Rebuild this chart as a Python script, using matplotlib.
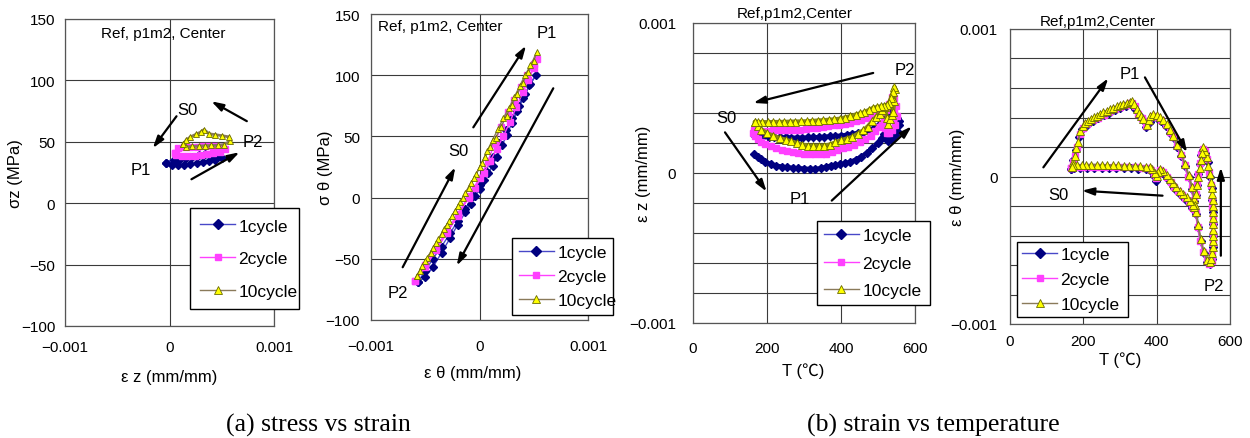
import numpy as np
import matplotlib
matplotlib.use('Agg')
import matplotlib.pyplot as plt
from matplotlib.lines import Line2D

plt.rcParams['font.family'] = ['Liberation Sans', 'Noto Sans CJK JP', 'DejaVu Sans']

# ─────────────────────────────────────────────
# DATA  (strains in 1e-6 mm/mm, stress in MPa, T in degC)
# ─────────────────────────────────────────────
cycles = ['1cycle', '2cycle', '10cycle']

# (a) sigma_z vs eps_z
ez_c1 = [-30, 20, 80, 140, 200, 260, 320, 380, 440, 500, 460, 400, 340, 280, 220, 160, 100, 40, -30]
sz_c1 = [33, 31.5, 31, 31.2, 31.8, 32.5, 33.5, 34.5, 35.5, 37, 38.5, 39.5, 40, 39, 38, 37, 36.3, 35.5, 33]
ez_c2 = [50, 60, 120, 180, 240, 300, 360, 420, 480, 530, 500, 440, 380, 320, 260, 200, 140, 80, 50]
sz_c2 = [41, 39, 38.5, 38.5, 38.8, 39.2, 39.8, 40.5, 41.5, 44, 46, 46.3, 46.3, 46.2, 46, 45.8, 45.5, 45, 41]
ez_c10 = [130, 160, 220, 280, 340, 400, 460, 520, 580, 570, 500, 440, 380, 330, 300, 250, 200, 160, 130]
sz_c10 = [48, 46, 46.2, 46.5, 46.8, 47, 47.2, 47.8, 50.5, 54, 55, 55.8, 56.5, 60, 58, 56, 54, 51.5, 48]

# (a) sigma_theta vs eps_theta
et_c1 = [-570, -500, -430, -350, -270, -200, -130, -60, 0, 60, 120, 180, 240, 300, 360, 420, 470, 520,
         460, 400, 350, 300, 250, 210, 160, 120, 80, 40, 0, -40, -80, -130, -200, -270, -350, -430, -500, -570]
st_c1 = [-69, -60, -50, -40, -29, -19, -9, 1, 10, 22, 33, 45, 55, 65, 75, 85, 93, 100,
         92, 81, 71, 61, 51, 43, 33, 26, 20, 14, 7, 1, -5, -12, -22, -33, -45, -57, -65, -69]
et_c2 = [-590, -500, -400, -300, -200, -100, 0, 80, 140, 200, 260, 320, 380, 440, 500, 530,
         500, 450, 400, 340, 280, 220, 160, 100, 40, -40, -100, -200, -300, -400, -500, -590]
st_c2 = [-68, -55, -41, -27, -13, 1, 16, 30, 45, 58, 70, 80, 90, 100, 109, 113,
         106, 96, 86, 74, 62, 50, 40, 30, 20, 8, 0, -15, -29, -43, -57, -68]
et_c10 = [-580, -530, -480, -430, -380, -330, -280, -230, -180, -130, -80, -30, 20, 70, 120, 170,
          220, 270, 320, 370, 420, 470, 530,
          500, 450, 400, 350, 300, 250, 200, 150, 100, 50, 0, -50, -100, -150, -200, -250, -300,
          -350, -400, -450, -500, -550, -580]
st_c10 = [-64, -56, -49, -41, -34, -26, -19, -11, -4, 4, 12, 19, 28, 38, 47, 56,
          65, 73, 82, 91, 100, 108, 119,
          112, 103, 94, 85, 76, 67, 58, 49, 41, 33, 25, 16, 8, 0, -7, -15, -22,
          -30, -37, -45, -52, -60, -64]

# (b) eps_z vs T
tz_c1 = [165, 175, 185, 195, 210, 225, 240, 255, 270, 285, 300, 315, 330, 345, 360, 372, 385, 397, 410, 425,
         440, 455, 470, 485, 500, 510, 516, 522, 528, 536, 545, 552, 556, 558,
         552, 545, 538, 532, 525, 518, 505, 490, 475, 460, 445, 430, 415, 400, 385, 370,
         355, 340, 325, 310, 295, 280, 265, 250, 235, 220, 205, 190, 175, 165]
ezt_c1 = [125, 110, 92, 75, 60, 50, 43, 38, 35, 32, 30, 28, 28, 32, 42, 50, 52, 58, 65, 75,
          90, 110, 135, 165, 200, 235, 260, 235, 215, 230, 255, 280, 320, 345,
          365, 380, 405, 425, 385, 350, 325, 300, 285, 275, 268, 260, 255, 250, 247, 245,
          242, 240, 238, 237, 236, 236, 236, 237, 238, 240, 242, 245, 250, 255]
tz_c2 = [162, 168, 175, 185, 195, 210, 225, 240, 255, 270, 285, 300, 315, 330, 345, 360, 375, 390, 405, 420,
         435, 450, 465, 480, 492, 502, 510, 516, 520, 524, 530, 538, 545, 550, 548, 542, 537,
         530, 522, 512, 500, 485, 470, 455, 440, 425, 410, 395, 380, 365, 350, 335, 320, 305, 290, 275, 260,
         245, 230, 215, 200, 185, 172, 165]
ezt_c2 = [265, 245, 228, 210, 195, 178, 165, 155, 147, 140, 135, 130, 128, 127, 128, 130, 140, 155, 165, 175,
          187, 205, 225, 250, 280, 310, 335, 345, 300, 265, 270, 290, 320, 380, 450, 500, 505,
          460, 420, 410, 395, 380, 370, 355, 345, 335, 328, 322, 318, 313, 308, 303, 298, 293, 290, 288, 287,
          286, 285, 284, 283, 282, 283, 285]
tz_c10 = [168, 175, 185, 200, 217, 235, 250, 265, 280, 295, 310, 325, 340, 355, 370, 385, 400, 415, 430, 445,
          460, 472, 485, 495, 505, 512, 518, 524, 528, 533, 538, 541, 544, 546, 544,
          540, 535, 530, 524, 516, 508, 497, 487, 475, 462, 450, 440, 425, 410, 397, 382, 367, 352, 337, 322,
          307, 292, 277, 262, 247, 232, 217, 202, 187, 175, 168]
ezt_c10 = [338, 315, 290, 265, 249, 232, 222, 212, 200, 190, 183, 182, 182, 183, 190, 205, 218, 230, 240, 262,
           285, 310, 345, 375, 395, 420, 440, 370, 330, 360, 385, 410, 480, 560, 575,
           540, 500, 470, 455, 450, 445, 440, 435, 420, 405, 397, 390, 378, 370, 362, 358, 355, 352, 350, 347,
           345, 344, 343, 342, 341, 340, 340, 339, 339, 338, 338]

# (b) eps_theta vs T
tt_c1 = [166, 173, 180, 188, 197, 210, 225, 240, 255, 270, 285, 300, 315, 327, 334, 342, 352, 362, 372, 381,
         391, 401, 413, 426, 437, 446, 456, 467, 477, 487, 496, 502, 508, 513, 520, 528, 537, 545,
         551, 553, 553, 553, 553, 552, 550, 546, 540, 533, 527, 522, 518, 514, 510, 506, 502, 496, 488, 478,
         468, 458, 448, 438, 428, 418, 410, 404, 399, 393, 385, 370, 350, 330, 310, 290, 270, 250, 230, 210,
         190, 175, 166]
ett_c1 = [50, 110, 180, 270, 320, 350, 375, 395, 415, 432, 448, 462, 478, 490, 494, 460, 420, 380, 335, 370,
          405, 398, 378, 345, 298, 258, 198, 140, 70, -5, -85, -165, -255, -345, -440, -520, -578, -592,
          -560, -480, -400, -320, -240, -160, -80, 0, 100, 160, 180, 145, 85, 15, -55, -125, -225, -212, -180, -155,
          -132, -108, -78, -42, -8, 22, 32, 8, -30, 5, 38, 48, 52, 55, 57, 58, 59, 60, 60, 60,
          60, 58, 50]
tt_c2 = [166, 172, 177, 183, 190, 198, 210, 225, 240, 255, 270, 285, 300, 315, 327, 333, 340, 350, 360, 372,
         380, 390, 400, 412, 425, 436, 445, 455, 466, 476, 486, 495, 501, 507, 512, 519, 527, 536, 544,
         550, 552, 553, 553, 553, 553, 552, 551, 548, 543, 537, 531, 526, 522, 518, 514, 510, 506, 502, 496,
         488, 478, 468, 458, 448, 438, 428, 418, 410, 404, 399, 393, 385, 375, 360, 340, 320, 300, 280, 260,
         240, 220, 200, 185, 172, 166]
ett_c2 = [55, 95, 140, 200, 290, 330, 355, 380, 400, 420, 440, 455, 470, 485, 495, 500, 475, 425, 395, 340,
          375, 412, 405, 385, 350, 305, 265, 205, 145, 75, 0, -80, -160, -250, -340, -435, -515, -575, -590,
          -570, -510, -450, -390, -330, -270, -210, -150, -60, 30, 120, 170, 185, 150, 90, 20, -50, -120, -220, -205,
          -172, -148, -125, -100, -70, -35, 0, 30, 42, 18, -10, 15, 45, 55, 58, 62, 63, 64, 65, 66,
          67, 67, 67, 66, 66, 55]
tt_c10 = [168, 172, 177, 181, 186, 191, 198, 205, 212, 220, 228, 236, 245, 254, 264, 273, 282, 291, 300, 309,
          318, 327, 332, 338, 345, 352, 358, 364, 373, 378, 382, 391, 400, 409, 418, 427, 436, 445, 455, 466,
          477, 487, 496, 502, 508, 513, 520, 528, 537, 545,
          549, 552, 553, 554, 554, 554, 554, 554, 554, 553, 553, 552, 551, 549, 545, 541, 536, 532, 527,
          524, 520, 517, 514, 511, 508, 504, 502, 498, 491, 482, 472, 463, 454, 445, 436, 427, 418, 409,
          404, 400, 395, 388, 382, 370, 355, 340, 325, 310, 295, 280, 265, 250, 236, 222, 208, 195, 184,
          173, 168]
ett_c10 = [62, 100, 141, 190, 232, 310, 340, 360, 375, 390, 402, 412, 425, 436, 446, 456, 466, 476, 485, 493,
           500, 505, 515, 490, 458, 430, 410, 390, 349, 385, 412, 424, 415, 401, 380, 356, 318, 277, 215, 158,
           85, 12, -68, -150, -240, -330, -424, -505, -565, -582,
           -560, -520, -480, -440, -400, -360, -320, -280, -240, -200, -160, -120, -80, -40, 20, 70, 130, 175, 198,
           160, 110, 60, 0, -60, -120, -190, -209, -195, -164, -140, -119, -95, -73, -45, -17, 10, 39, 51,
           30, 5, 25, 50, 62, 66, 69, 72, 73, 74, 75, 76, 77, 78, 80, 80, 79, 78, 78,
           78, 62]

# ─────────────────────────────────────────────
# STYLES
# ─────────────────────────────────────────────
styles = [
    dict(color='#4848c8', marker='D', mfc='#000080', mec='#000080'),
    dict(color='#ff40ff', marker='s', mfc='#ff40ff', mec='#ff40ff'),
    dict(color='#8a7a5a', marker='^', mfc='#ffff00', mec='#6b6b00', mew=0.6),
]
band_colors = ['#000080', '#ff40ff', '#8c8c10']
GRID = '#3a3a3a'


def draw_series(ax, xs, ys, xscale, yscale, ms, lw=1.0, band=False):
    for i, (x, y) in enumerate(zip(xs, ys)):
        st = dict(styles[i])
        if band:
            st['color'] = band_colors[i]
        size = ms + (0.8 if st['marker'] == '^' else 0.0)
        ax.plot(np.array(x) * xscale, np.array(y) * yscale, lw=lw, ms=size,
                zorder=3 + i, **st)


def frame(ax, xlim, ylim, xticks, xlabels, yticks, ylabels, xpad, ypad):
    ax.set_xlim(xlim)
    ax.set_ylim(ylim)
    ax.set_xticks(xticks, xlabels)
    ax.set_yticks(yticks, ylabels)
    ax.grid(True, color=GRID, lw=0.8)
    ax.set_axisbelow(True)
    ax.tick_params(length=0, labelsize=11)
    ax.tick_params(axis='x', pad=xpad)
    ax.tick_params(axis='y', pad=ypad)
    for s in ax.spines.values():
        s.set_color('#555555')
        s.set_linewidth(0.9)


def labels(ax, xlabel, ylabel, xpos, ypos):
    ax.set_xlabel(xlabel, fontsize=12)
    ax.set_ylabel(ylabel, fontsize=12)
    ax.xaxis.set_label_coords(*xpos)
    ax.yaxis.set_label_coords(*ypos)
    ax.xaxis.label.set_va('center')
    ax.yaxis.label.set_va('center')


def arrow(ax, x0, y0, x1, y1):
    ax.annotate('', xy=(x1, y1), xytext=(x0, y0),
                arrowprops=dict(arrowstyle='-|>,head_length=0.7,head_width=0.22',
                                color='black', lw=1.6, shrinkA=0, shrinkB=0),
                zorder=8)


def legend(ax, box, spacing, pad):
    handles = []
    for st in styles:
        size = 5.5 if st['marker'] == '^' else 5
        handles.append(Line2D([], [], lw=1.0, ms=size, **st))
    leg = ax.legend(handles, cycles, loc='upper left', bbox_to_anchor=box,
                    bbox_transform=fig.transFigure, mode='expand', borderaxespad=0,
                    fontsize=12.5, labelspacing=spacing, borderpad=pad,
                    handlelength=2.0, handletextpad=0.2,
                    frameon=True, fancybox=False, framealpha=1)
    leg.get_frame().set_edgecolor('black')
    leg.get_frame().set_linewidth(1.0)
    leg.set_zorder(10)


W, H = 1250, 439
fig = plt.figure(figsize=(W / 100, H / 100), dpi=100)


def axes_px(left, top, right, bottom):
    return fig.add_axes([left / W, 1 - bottom / H, (right - left) / W, (bottom - top) / H])


strain_ticks = [-0.001, 0, 0.001]
strain_labels = ['\u22120.001', '0', '0.001']
stress_ticks = [-100, -50, 0, 50, 100, 150]
stress_labels = ['\u2212100', '\u221250', '0', '50', '100', '150']
temp_ticks = [0, 200, 400, 600]
temp_labels = ['0', '200', '400', '600']
eps_ticks = np.linspace(-0.001, 0.001, 11)
eps_labels = ['\u22120.001', '', '', '', '', '0', '', '', '', '', '0.001']

# ─────────────────────────────────────────────
# (a) sigma_z - eps_z
# ─────────────────────────────────────────────
ax1 = axes_px(65, 20, 274, 327)
frame(ax1, (-0.001, 0.001), (-100, 150), strain_ticks, strain_labels,
      stress_ticks, stress_labels, 10, 7)
draw_series(ax1, [ez_c1, ez_c2, ez_c10], [sz_c1, sz_c2, sz_c10], 1e-6, 1, 4, lw=2.0)
labels(ax1, '\u03b5 z (mm/mm)', '\u03c3z (MPa)', (0.5, -0.165), (-0.235, 0.5))
ax1.text(0.47, 0.955, 'Ref, p1m2, Center', transform=ax1.transAxes, ha='center', va='center', fontsize=11)
arrow(ax1, 0.000067, 70.8, -0.00016, 44.8)
arrow(ax1, 0.00021, 19.5, 0.00067, 41.5)
arrow(ax1, 0.00074, 66.8, 0.0004, 83)
ax1.text(0.00017, 76.5, 'S0', ha='center', va='center', fontsize=12)
ax1.text(-0.00027, 27.7, 'P1', ha='center', va='center', fontsize=12)
ax1.text(0.0008, 50, 'P2', ha='center', va='center', fontsize=12)
legend(ax1, (190 / W, 1 - 209 / H, 109 / W, 0), 1.0, 0.6)

# ─────────────────────────────────────────────
# (a) sigma_theta - eps_theta
# ─────────────────────────────────────────────
ax2 = axes_px(371, 15, 588, 321)
frame(ax2, (-0.001, 0.001), (-100, 150), strain_ticks, strain_labels,
      stress_ticks, stress_labels, 14, 8)
draw_series(ax2, [et_c1, et_c2, et_c10], [st_c1, st_c2, st_c10], 1e-6, 1, 4)
labels(ax2, '\u03b5 \u03b8 (mm/mm)', '\u03c3 \u03b8 (MPa)', (0.47, -0.17), (-0.21, 0.5))
ax2.text(0.034, 0.962, 'Ref, p1m2, Center', transform=ax2.transAxes, ha='left', va='center', fontsize=11)
arrow(ax2, -0.000057, 57.4, 0.000429, 124.1)
arrow(ax2, 0.00068, 89.3, -0.00021, -55.6)
arrow(ax2, -0.000708, -56.9, -0.000223, 24.8)
ax2.text(0.00062, 135, 'P1', ha='center', va='center', fontsize=12)
ax2.text(-0.000195, 38.3, 'S0', ha='center', va='center', fontsize=12)
ax2.text(-0.00075, -77.4, 'P2', ha='center', va='center', fontsize=12)
legend(ax2, (512 / W, 1 - 239 / H, 101 / W, 0), 0.5, 0.4)

# ─────────────────────────────────────────────
# (b) eps_z - T
# ─────────────────────────────────────────────
ax3 = axes_px(693, 24, 915, 324)
frame(ax3, (0, 600), (-0.001, 0.001), temp_ticks, temp_labels,
      eps_ticks, eps_labels, 13, 12)
draw_series(ax3, [tz_c1, tz_c2, tz_c10], [ezt_c1, ezt_c2, ezt_c10], 1, 1e-6, 4.5, lw=3.0, band=True)
labels(ax3, 'T (\u2103)', '\u03b5 z (mm/mm)', (0.495, -0.157), (-0.225, 0.5))
ax3.text(0.46, 1.033, 'Ref,p1m2,Center', transform=ax3.transAxes, ha='center', va='center', fontsize=11)
arrow(ax3, 487, 0.000667, 163, 0.000467)
arrow(ax3, 86.5, 0.000271, 199, -0.000124)
arrow(ax3, 375, -0.000184, 591, 0.000311)
ax3.text(573, 0.000693, 'P2', ha='center', va='center', fontsize=12)
ax3.text(91, 0.000371, 'S0', ha='center', va='center', fontsize=12)
ax3.text(289, -0.000173, 'P1', ha='center', va='center', fontsize=12)
legend(ax3, (817 / W, 1 - 222 / H, 113 / W, 0), 0.72, 0.4)

# ─────────────────────────────────────────────
# (b) eps_theta - T
# ─────────────────────────────────────────────
ax4 = axes_px(1010, 30, 1230, 325)
frame(ax4, (0, 600), (-0.001, 0.001), temp_ticks, temp_labels,
      eps_ticks, eps_labels, 7, 9)
draw_series(ax4, [tt_c1, tt_c2, tt_c10], [ett_c1, ett_c2, ett_c10], 1, 1e-6, 4.5, lw=1.5)
labels(ax4, 'T (\u2103)', '\u03b5 \u03b8 (mm/mm)', (0.5, -0.12), (-0.24, 0.5))
ax4.text(0.40, 1.028, 'Ref,p1m2,Center', transform=ax4.transAxes, ha='center', va='center', fontsize=11)
arrow(ax4, 91, 0.000062, 268, 0.000666)
arrow(ax4, 368, 0.000672, 483, 0.000164)
arrow(ax4, 575, -0.000537, 575, 0.000062)
arrow(ax4, 416, -0.00013, 196, -0.000096)
ax4.text(327, 0.000695, 'P1', ha='center', va='center', fontsize=12)
ax4.text(132, -0.000119, 'S0', ha='center', va='center', fontsize=12)
ax4.text(555, -0.00074, 'P2', ha='center', va='center', fontsize=12)
legend(ax4, (1017 / W, 1 - 243 / H, 111 / W, 0), 0.55, 0.3)

# ─────────────────────────────────────────────
# CAPTIONS
# ─────────────────────────────────────────────
fig.text(318 / W, 1 - 425 / H, '(a) stress vs strain', ha='center', va='center',
         family='Liberation Serif', fontsize=18.5)
fig.text(933 / W, 1 - 425 / H, '(b) strain vs temperature', ha='center', va='center',
         family='Liberation Serif', fontsize=18.5)

fig.savefig('out.png', dpi=100)
plt.close(fig)
